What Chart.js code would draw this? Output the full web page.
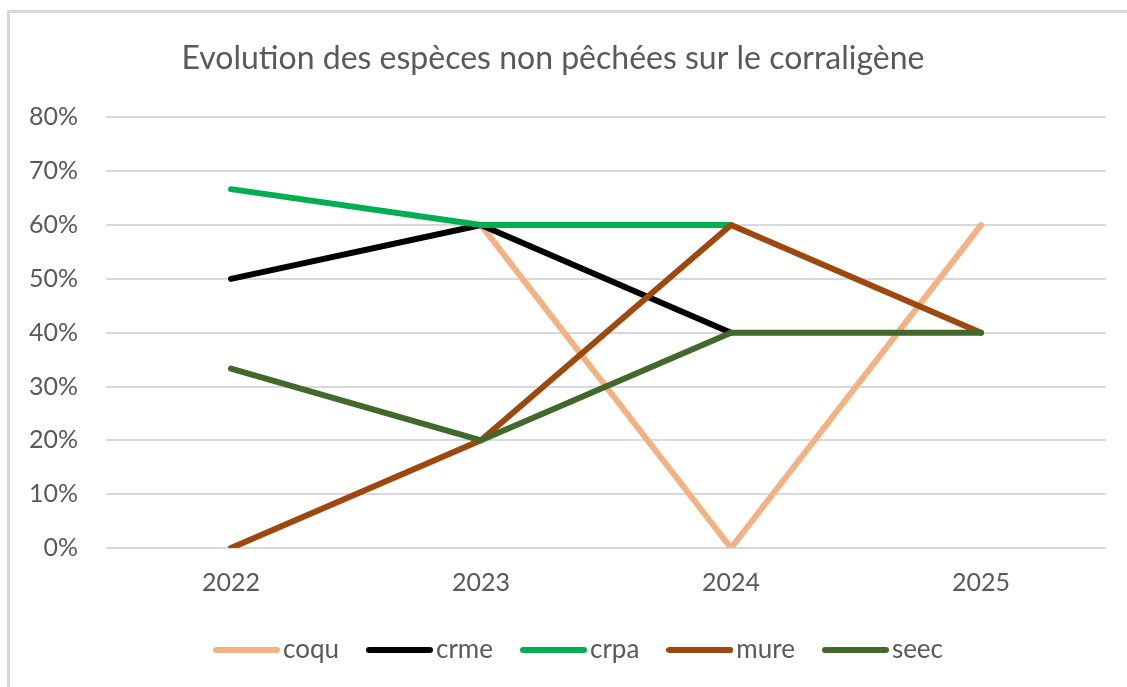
<!DOCTYPE html>
<html>
<head>
<meta charset="utf-8">
<script src="https://cdn.jsdelivr.net/npm/chart.js@4"></script>
<style>
html,body{margin:0;padding:0;background:#fff;overflow:hidden;}
#frame{position:absolute;left:7px;top:10px;width:1200px;height:800px;border-top:3px solid #d9d9d9;border-left:3px solid #d9d9d9;box-sizing:border-box;}
#wrap{position:absolute;left:0;top:0;width:1127px;height:687px;}
</style>
</head>
<body>
<div id="frame"></div>
<div id="wrap"><canvas id="c" width="1127" height="687"></canvas></div>
<script>
const categories = ['2022', '2023', '2024', '2025'];
const coqu = [null, 60, 0, 60];
const crme = [50, 60, 40, null];
const crpa = [66.67, 60, 60, null];
const mure = [0, 20, 60, 40];
const seec = [33.33, 20, 40, 40];
const seriesNames = ['coqu', 'crme', 'crpa', 'mure', 'seec'];
const seriesValues = [coqu, crme, crpa, mure, seec];
const colors = ['#F4B183', '#000000', '#00B050', '#9E480E', '#43682B'];

const FONT = "Lato, 'Noto Sans', sans-serif";
const FS = 25;

function legendLine(color) {
  const c = document.createElement('canvas');
  c.width = 67; c.height = 8;
  const g = c.getContext('2d');
  g.strokeStyle = color; g.lineWidth = 6; g.lineCap = 'round';
  g.beginPath(); g.moveTo(3, 4); g.lineTo(64, 4); g.stroke();
  return c;
}

const datasets = seriesNames.map((n, i) => ({
  label: n,
  data: seriesValues[i],
  borderColor: colors[i],
  backgroundColor: colors[i],
  borderWidth: 6,
  borderCapStyle: 'round',
  borderJoinStyle: 'round',
  pointRadius: 0,
  pointHoverRadius: 0,
  pointStyle: legendLine(colors[i]),
  tension: 0,
  spanGaps: false,
  order: seriesNames.length - i
}));

const shiftLegend = {
  id: 'shiftLegend',
  afterLayout(chart) {
    if (chart.legend) { chart.legend.left += 30; chart.legend.right += 30; }
  }
};

new Chart(document.getElementById('c'), {
  type: 'line',
  data: { labels: categories, datasets },
  plugins: [shiftLegend],
  options: {
    responsive: false,
    animation: false,
    events: [],
    layout: { padding: { left: 0, right: 21, top: 39, bottom: 14 } },
    plugins: {
      title: {
        display: true,
        text: 'Evolution des espèces non pêchées sur le corraligène',
        color: '#595959',
        font: { family: FONT, size: 32, weight: 'normal' },
        padding: { top: 0, bottom: 40 }
      },
      legend: {
        position: 'bottom',
        labels: {
          usePointStyle: true,
          pointStyleWidth: 47,
          color: '#595959',
          font: { family: FONT, size: 26 },
          padding: 37,
          sort: (a, b) => a.datasetIndex - b.datasetIndex
        }
      },
      tooltip: { enabled: false }
    },
    scales: {
      x: {
        offset: true,
        afterFit: s => { s.height = 52; },
        grid: { display: false, drawTicks: false },
        border: { display: false },
        ticks: { color: '#595959', font: { family: FONT, size: FS }, padding: 20 }
      },
      y: {
        min: 0,
        max: 80,
        afterFit: s => { s.width = 106; },
        grid: { color: '#d9d9d9', lineWidth: 2, drawTicks: false },
        border: { display: false },
        ticks: {
          stepSize: 10,
          color: '#595959',
          font: { family: FONT, size: FS },
          padding: 28,
          callback: v => v + '%'
        }
      }
    }
  }
});
</script>
</body>
</html>
